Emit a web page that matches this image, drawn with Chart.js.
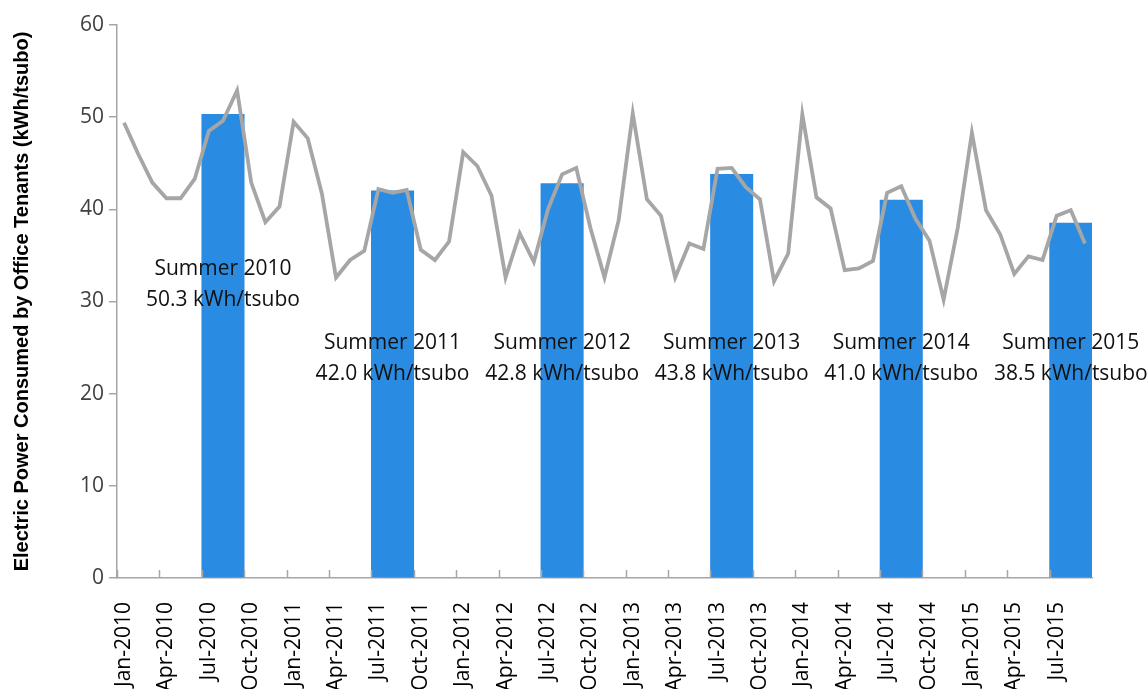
<!DOCTYPE html>
<html lang="en">
<head>
  <meta charset="UTF-8">
  <title>Office Tenant Power Use</title>
  <script src="https://cdn.jsdelivr.net/npm/chart.js"></script>
  <style>
    html, body { margin: 0; padding: 0; background: #fff; }
    #wrap { width: 1148px; height: 689px; }
  </style>
</head>
<body>
  <div id="wrap"><canvas id="powerChart" width="1148" height="689"></canvas></div>

  <script>
    // data
    const monthNames = ["Jan","Feb","Mar","Apr","May","Jun","Jul","Aug","Sep","Oct","Nov","Dec"];
    const years = [2010, 2011, 2012, 2013, 2014, 2015];
    const monthsIn2015 = 9;

    const monthly2010 = [49.4, 46.0, 42.9, 41.2, 41.2, 43.3, 48.5, 49.6, 52.9, 42.9, 38.6, 40.3];
    const monthly2011 = [49.5, 47.7, 41.7, 32.6, 34.5, 35.5, 42.2, 41.8, 42.1, 35.6, 34.5, 36.5];
    const monthly2012 = [46.2, 44.7, 41.5, 32.6, 37.4, 34.3, 40.0, 43.8, 44.5, 38.0, 32.6, 38.8];
    const monthly2013 = [50.4, 41.1, 39.3, 32.6, 36.3, 35.7, 44.4, 44.5, 42.4, 41.1, 32.2, 35.2];
    const monthly2014 = [50.3, 41.3, 40.1, 33.4, 33.6, 34.4, 41.8, 42.5, 39.0, 36.6, 30.2, 38.0];
    const monthly2015 = [48.3, 39.9, 37.3, 33.0, 34.9, 34.5, 39.3, 39.9, 36.3];

    const summerValues = [50.3, 42.0, 42.8, 43.8, 41.0, 38.5];
    const summerMonths = [6, 7, 8]; // Jul, Aug, Sep

    // build labels + series
    const labels = [];
    years.forEach(y => {
      const n = y === 2015 ? monthsIn2015 : 12;
      for (let m = 0; m < n; m++) labels.push(monthNames[m] + "-" + y);
    });
    const lineData = [].concat(monthly2010, monthly2011, monthly2012, monthly2013, monthly2014, monthly2015);
    const barData = labels.map(() => null);
    summerValues.forEach((v, k) => {
      summerMonths.forEach(m => { barData[k * 12 + m] = v; });
    });

    const AXIS = "#a6a6a6";

    // summer captions, centred on the middle month of each summer bar
    const summerCaptions = {
      id: "summerCaptions",
      afterDatasetsDraw(chart) {
        const { ctx, scales: { x, y } } = chart;
        ctx.save();
        ctx.font = "21px 'Open Sans', sans-serif";
        ctx.fillStyle = "#111";
        ctx.textAlign = "center";
        ctx.textBaseline = "middle";
        summerValues.forEach((v, k) => {
          const cx = x.getPixelForValue(k * 12 + 7);
          const top = y.getPixelForValue(k === 0 ? 33.5 : 25.5);
          ctx.fillText("Summer " + years[k], cx, top);
          ctx.fillText(v.toFixed(1) + " kWh/tsubo", cx, top + 31);
        });
        ctx.restore();
      }
    };

    // small inside tick marks on the x axis, every third month
    const xTickMarks = {
      id: "xTickMarks",
      afterDraw(chart) {
        const { ctx, scales: { x }, chartArea } = chart;
        const half = (x.getPixelForValue(1) - x.getPixelForValue(0)) / 2;
        ctx.save();
        ctx.strokeStyle = AXIS;
        ctx.lineWidth = 1.5;
        for (let i = 0; i < labels.length; i += 3) {
          const px = Math.round(x.getPixelForValue(i) - half) + 0.5;
          ctx.beginPath();
          ctx.moveTo(px, chartArea.bottom);
          ctx.lineTo(px, chartArea.bottom - 8);
          ctx.stroke();
        }
        ctx.restore();
      }
    };

    new Chart(document.getElementById("powerChart"), {
      type: "bar",
      data: {
        labels,
        datasets: [
          {
            type: "line",
            data: lineData,
            borderColor: "#a6a6a6",
            borderWidth: 3.8,
            pointRadius: 0,
            tension: 0,
            order: 0
          },
          {
            type: "bar",
            data: barData,
            backgroundColor: "#2a8be2",
            borderWidth: 0,
            categoryPercentage: 1.0,
            barPercentage: 1.0,
            order: 1
          }
        ]
      },
      options: {
        responsive: false,
        animation: false,
        layout: { padding: { top: 25, right: 56, left: 0, bottom: 0 } },
        plugins: { legend: { display: false }, tooltip: { enabled: false } },
        scales: {
          x: {
            grid: { display: false },
            border: { color: AXIS, width: 1.5 },
            afterFit: s => { s.height = 111; },
            ticks: {
              autoSkip: false,
              maxRotation: 90,
              minRotation: 90,
              padding: 16,
              color: "#000",
              font: { family: "'Open Sans', sans-serif", size: 21 },
              callback: (v, i) => (i % 3 === 0 ? labels[i] : "")
            }
          },
          y: {
            min: 0,
            max: 60,
            afterFit: s => { s.width = 117; },
            ticks: {
              stepSize: 10,
              padding: 5,
              color: "#404040",
              font: { family: "'Open Sans', sans-serif", size: 21 }
            },
            grid: { drawOnChartArea: false, tickLength: 8, color: AXIS, lineWidth: 1.5 },
            border: { color: AXIS, width: 1.5 },
            title: {
              display: true,
              text: "Electric Power Consumed by Office Tenants (kWh/tsubo)",
              color: "#000",
              padding: { top: 10, bottom: 0 },
              font: { family: "'Liberation Sans', sans-serif", size: 20, weight: "bold" }
            }
          }
        }
      },
      plugins: [summerCaptions, xTickMarks]
    });
  </script>
</body>
</html>
